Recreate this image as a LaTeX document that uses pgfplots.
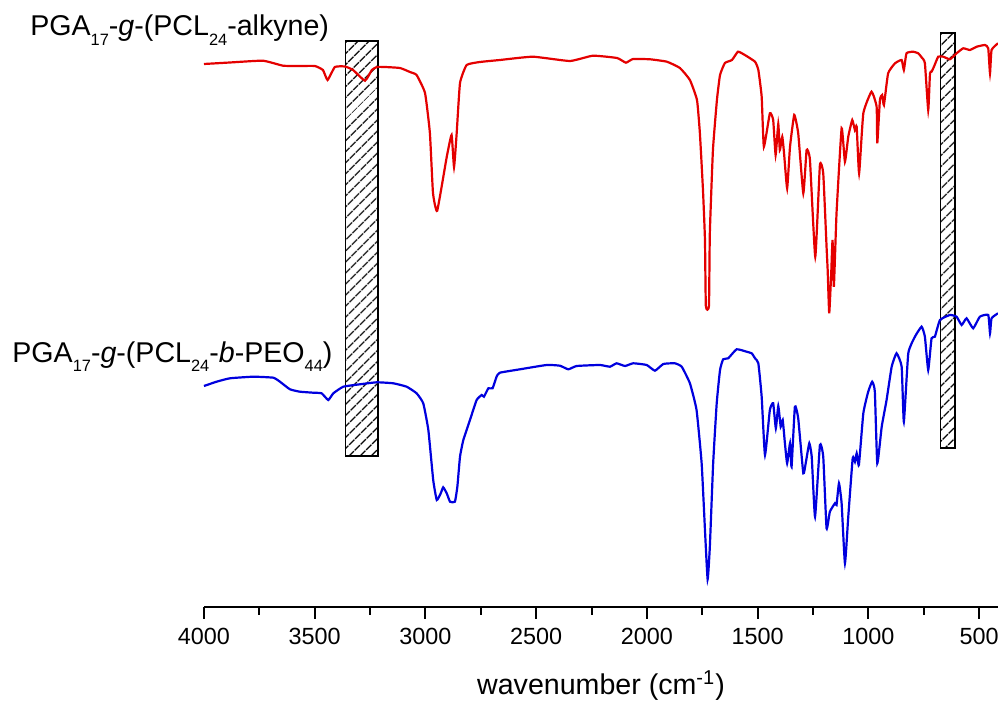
\documentclass[border=0pt]{standalone}
\usepackage{fontspec}
\setmainfont{Liberation Sans}
\usepackage{pgfplots}
\pgfplotsset{compat=1.18}
\usetikzlibrary{patterns.meta}
\definecolor{specred}{RGB}{228,0,0}
\definecolor{specblue}{RGB}{0,0,222}
\newcommand\sub[1]{\raisebox{-0.33em}{\fontsize{8.2pt}{8.2pt}\selectfont #1}}

\begin{document}
\begin{tikzpicture}
\begin{axis}[
 scale only axis, width=397pt, height=303.5pt,
 x dir=reverse, xmin=415, xmax=4000, ymin=0, ymax=607,
 axis x line=bottom, axis y line=none,
 x axis line style={-, line width=1.1pt},
 xtick={4000,3500,3000,2500,2000,1500,1000,500},
 minor x tick num=1,
 tick align=outside,
 major tick length=6pt, minor tick length=4pt,
 every tick/.style={black, line width=1pt},
 xticklabel style={font=\fontsize{11.7}{13}\selectfont, yshift=-1pt},
 /pgf/number format/assume math mode=true,
 /pgf/number format/1000 sep={},
 xlabel={wavenumber (cm\textsuperscript{-1})},
 xlabel style={font=\fontsize{14.3}{16}\selectfont, at={(axis description cs:0.5,0)}, anchor=base, yshift=-44pt},
 clip=false,
]
\addplot[draw=black, line width=0.75pt, pattern={Lines[angle=45,distance=4pt,line width=0.75pt]}]
 coordinates {(3360,151) (3215,151) (3215,566) (3360,566)} --cycle;
\addplot[draw=black, line width=0.75pt, pattern={Lines[angle=45,distance=4pt,line width=0.75pt]}]
 coordinates {(675,159) (610,159) (610,574) (675,574)} --cycle;

\addplot[specred, line width=1.1pt, smooth, tension=0.25] coordinates {
(4000,543) (3883,544.5) (3734,546.3) (3643,541.3) (3567,541) (3499,541) (3463,537)
(3442,527) (3409,540) (3363,540.5) (3327,537) (3273,526.3) (3242,537) (3219,540)
(3183,540) (3115,539) (3070,535) (3040,532) (3002,514) (2980,474) (2966,414)
(2947,396.3) (2904,450) (2882,472) (2871,440) (2859,474) (2844,524) (2814,542)
(2754,545) (2664,547) (2515,550.3) (2348,546) (2244,551.3) (2135,549) (2095,544.3)
(2063,548) (1986,547.7) (1910,545.3) (1851,539) (1806,527) (1774,507) (1761,474)
(1747,417) (1738,367) (1734,301) (1720,301) (1716,374) (1702,457) (1684,507)
(1670,532) (1648,544) (1616,547) (1589,555.3) (1558,552) (1512,545.3) (1497,537)
(1482,510.3) (1472,460.3) (1445,493.7) (1430,487) (1419,452) (1407,483) (1400,457)
(1389,470.3) (1381,454) (1367,418.7) (1354,460.3) (1335,492) (1317,473.7) (1294,413.7)
(1279,457) (1264,447) (1240,350.3) (1219,442) (1204,433.7) (1189,360.3) (1184,337)
(1177,293.7) (1168,333.7) (1162,367) (1156,320.3) (1144,393.7) (1121,478.7) (1106,445.3)
(1091,470.3) (1073,487) (1061,477) (1053,480.3) (1042,433.7) (1023,493.7) (986,515.3)
(963,500.3) (960,463.7) (948,507) (938,512) (930,502) (911,533.7) (880,543.7)
(850,547) (840,537) (828,553.7) (798,555.3) (775,553.7) (760,549.7) (745,543.7)
(730,497) (722,533.7) (715,535.3) (704,540.3) (685,550.3) (662,550.3) (632,547.7)
(602,553.7) (572,558.7) (542,557) (511,560.3) (474,562) (459,558.7) (451,533.7)
(444,557) (415,563.7)
};

\addplot[specblue, line width=1.1pt, smooth, tension=0.25] coordinates {
(4000,221) (3943,225.3) (3883,228.7) (3777,230.3) (3687,229.3) (3657,225.3) (3612,217.7)
(3567,215.3) (3507,214.3) (3469,213.7) (3439,207) (3416,213.7) (3371,220.3) (3296,222.7)
(3220,224.7) (3145,223.7) (3085,220.3) (3040,213.7) (3010,203.7) (2987,177) (2965,127)
(2949,107) (2931,113.7) (2920,119.7) (2904,113.7) (2889,105.3) (2867,105.3) (2856,120.3)
(2844,150.3) (2829,167) (2799,187) (2769,207) (2746,212) (2736,210.3) (2716,218.7)
(2697,218.7) (2679,230.3) (2664,234.3) (2573,237.7) (2453,242) (2393,241.3) (2355,237.7)
(2317,241) (2212,242) (2167,240.3) (2137,243.7) (2099,241) (2062,243.7) (2001,242)
(1964,236.3) (1926,243) (1874,243.7) (1843,240.3) (1806,223.7) (1776,197) (1753,143.7)
(1738,77) (1726,27.7) (1716,60.3) (1701,143.7) (1685,203.7) (1670,237) (1656,247.7)
(1633,248.7) (1595,257.7) (1550,255.3) (1527,253.7) (1512,248.7) (1497,243.7) (1482,210.3)
(1467,152) (1445,197) (1430,203.7) (1418,178.7) (1407,201) (1396,180.3) (1387,187)
(1377,163.7) (1367,143.7) (1354,163.7) (1347,140.3) (1332,200.3) (1317,188.7) (1294,133.7)
(1282,145.3) (1267,163.7) (1256,150.3) (1241,90.3) (1219,162) (1204,150.3) (1189,78.7)
(1174,95.3) (1151,103.7) (1144,102) (1133,123.7) (1121,103.7) (1106,43.7) (1091,90.3)
(1071,148.7) (1061,145.3) (1053,153.7) (1043,142) (1023,193.7) (1001,215.3) (983,225.3)
(971,215.3) (960,143.7) (940,180.3) (918,207) (895,240.3) (873,253.7) (850,240.3)
(840,185.3) (820,253.7) (790,270.3) (760,280.3) (745,270.3) (730,237) (715,268.7)
(700,270.3) (677,287) (632,292) (602,290.3) (579,282) (557,288.7) (527,278.7)
(497,290.3) (459,292) (451,273.7) (444,288.7) (415,293.7)
};

\node[anchor=base west, font=\fontsize{14.3}{16}\selectfont, inner sep=0pt]
 at (axis cs:4786,571) {PGA\sub{17}-\textit{g}-(PCL\sub{24}-alkyne)};
\node[anchor=base west, font=\fontsize{14.3}{16}\selectfont, inner sep=0pt]
 at (axis cs:4867,244.7) {PGA\sub{17}-\textit{g}-(PCL\sub{24}-\textit{b}-PEO\sub{44})};
\end{axis}
\pgfresetboundingbox
\path (current axis.south west) ++(-102pt,-47.5pt) rectangle (current axis.north east);
\end{tikzpicture}
\end{document}
